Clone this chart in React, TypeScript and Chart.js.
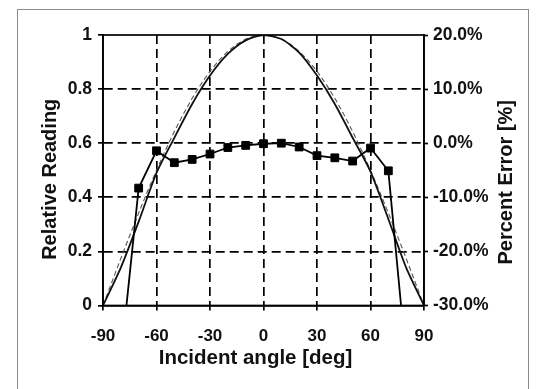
import React, { useEffect, useRef } from "react";
import { Chart, registerables } from "chart.js";

Chart.register(...registerables);

// Cosine (ideal) response, read every 5 degrees
const cosAngles = [-90, -85, -80, -75, -70, -65, -60, -55, -50, -45, -40, -35, -30, -25, -20, -15, -10, -5, 0, 5, 10, 15, 20, 25, 30, 35, 40, 45, 50, 55, 60, 65, 70, 75, 80, 85, 90];
const cosValues = [0, 0.087, 0.174, 0.259, 0.342, 0.423, 0.5, 0.574, 0.643, 0.707, 0.766, 0.819, 0.866, 0.906, 0.94, 0.966, 0.985, 0.996, 1, 0.996, 0.985, 0.966, 0.94, 0.906, 0.866, 0.819, 0.766, 0.707, 0.643, 0.574, 0.5, 0.423, 0.342, 0.259, 0.174, 0.087, 0];

// Measured relative reading
const measAngles = [-90, -80, -70, -60, -50, -40, -30, -20, -10, 0, 10, 20, 30, 40, 50, 60, 70, 80, 90];
const measValues = [0, 0.14, 0.31, 0.49, 0.62, 0.745, 0.85, 0.93, 0.98, 1.0, 0.985, 0.935, 0.85, 0.745, 0.62, 0.495, 0.32, 0.14, 0];

// Percent error (right axis)
const errAngles = [-80, -70, -60, -50, -40, -30, -20, -10, 0, 10, 20, 30, 40, 50, 60, 70, 80];
const errValues = [-40, -8.3, -1.4, -3.6, -3.0, -2.0, -0.8, -0.4, -0.1, 0, -0.7, -2.3, -2.7, -3.3, -0.9, -5.1, -40];

const xTickValues = [-90, -60, -30, 0, 30, 60, 90];
const leftTickValues = [0, 0.2, 0.4, 0.6, 0.8, 1];
const rightTickValues = [-30, -20, -10, 0, 10, 20];

const xTitle = "Incident angle [deg]";
const leftTitle = "Relative Reading";
const rightTitle = "Percent Error [%]";

const FONT = '"Liberation Sans", Arial, sans-serif';
const INK = "#111111";

const deco = {
  id: "deco",
  afterDraw(chart: any) {
    const { ctx, chartArea: a } = chart;
    ctx.save();
    ctx.setLineDash([]);
    ctx.strokeStyle = "#000";
    ctx.lineWidth = 1.7;
    ctx.strokeRect(a.left, a.top, a.right - a.left, a.bottom - a.top);
    ctx.fillStyle = INK;
    ctx.textAlign = "center";
    ctx.textBaseline = "middle";
    ctx.font = `bold 20.5px ${FONT}`;
    ctx.fillText(xTitle, (a.left + a.right) / 2 - 8, a.bottom + 53);
    ctx.font = `bold 20px ${FONT}`;
    ctx.save();
    ctx.translate(a.left - 53, (a.top + a.bottom) / 2 + 9);
    ctx.rotate(-Math.PI / 2);
    ctx.fillText(leftTitle, 0, 0);
    ctx.restore();
    ctx.save();
    ctx.translate(a.right + 82, (a.top + a.bottom) / 2 + 12);
    ctx.rotate(-Math.PI / 2);
    ctx.fillText(rightTitle, 0, 0);
    ctx.restore();
    ctx.restore();
  },
};

export default function App() {
  const ref = useRef<HTMLCanvasElement>(null);

  useEffect(() => {
    if (!ref.current) return;
    const xEdge = (v: number) => v === xTickValues[0] || v === xTickValues[xTickValues.length - 1];
    const yEdge = (v: number) => v === leftTickValues[0] || v === leftTickValues[leftTickValues.length - 1];
    const chart = new Chart(ref.current, {
      type: "line",
      data: {
        datasets: [
          {
            label: "Percent Error",
            data: errAngles.map((x, i) => ({ x, y: errValues[i] })),
            yAxisID: "y2",
            borderColor: "#000",
            backgroundColor: "#000",
            borderWidth: 1.8,
            pointStyle: "rect",
            pointRadius: 5.5,
            pointBorderWidth: 1,
            pointBackgroundColor: "#000",
            pointBorderColor: "#000",
            tension: 0,
          },
          {
            label: "Measured",
            data: measAngles.map((x, i) => ({ x, y: measValues[i] })),
            yAxisID: "y",
            borderColor: "#111",
            borderWidth: 1.8,
            pointRadius: 0,
            tension: 0.25,
          },
          {
            label: "Cosine",
            data: cosAngles.map((x, i) => ({ x, y: cosValues[i] })),
            yAxisID: "y",
            borderColor: "#555",
            borderWidth: 1.1,
            borderDash: [5, 3],
            pointRadius: 0,
            tension: 0,
          },
        ],
      },
      options: {
        animation: false,
        responsive: false,
        devicePixelRatio: 1,
        layout: { padding: { top: 35, left: 0, right: 0, bottom: 0 } },
        plugins: { legend: { display: false }, tooltip: { enabled: false }, title: { display: false } },
        scales: {
          x: {
            type: "linear",
            min: -90,
            max: 90,
            afterBuildTicks: (s: any) => {
              s.ticks = xTickValues.map((v) => ({ value: v }));
            },
            afterFit: (s: any) => {
              s.height = 83.5;
            },
            grid: {
              color: (c: any) => (c.tick && xEdge(c.tick.value) ? "rgba(0,0,0,0)" : "#000"),
              lineWidth: 1.7,
              drawTicks: true,
              tickLength: 5,
              tickColor: "#000",
              tickWidth: 1.7,
            },
            border: { display: true, color: "#000", width: 1.7, dash: [9, 5] },
            ticks: {
              color: INK,
              font: { family: FONT, size: 17, weight: "bold" },
              padding: 16,
              maxRotation: 0,
              autoSkip: false,
              callback: (v: any) => String(v),
            },
          },
          y: {
            type: "linear",
            position: "left",
            min: 0,
            max: 1,
            afterBuildTicks: (s: any) => {
              s.ticks = leftTickValues.map((v) => ({ value: v }));
            },
            afterFit: (s: any) => {
              s.width = 103;
            },
            grid: {
              color: (c: any) => (c.tick && yEdge(c.tick.value) ? "rgba(0,0,0,0)" : "#000"),
              lineWidth: 1.7,
              drawTicks: true,
              tickLength: 5,
              tickColor: "#000",
              tickWidth: 1.7,
            },
            border: { display: true, color: "#000", width: 1.7, dash: [9, 5] },
            ticks: {
              color: INK,
              font: { family: FONT, size: 17.5, weight: "bold" },
              padding: 6,
              autoSkip: false,
              callback: (v: any) => String(Number(Number(v).toFixed(1))),
            },
          },
          y2: {
            type: "linear",
            position: "right",
            min: -30,
            max: 20,
            afterBuildTicks: (s: any) => {
              s.ticks = rightTickValues.map((v) => ({ value: v }));
            },
            afterFit: (s: any) => {
              s.width = 121;
            },
            grid: {
              drawOnChartArea: false,
              drawTicks: true,
              tickLength: 4,
              tickColor: "#000",
              tickWidth: 1.7,
            },
            border: { display: true, color: "#000", width: 1.7 },
            ticks: {
              color: INK,
              font: { family: FONT, size: 17.5, weight: "bold" },
              padding: 5,
              autoSkip: false,
              callback: (v: any) => Number(v).toFixed(1) + "%",
            },
          },
        },
      } as any,
      plugins: [deco],
    });
    return () => chart.destroy();
  }, []);

  return (
    <div style={{ position: "fixed", left: 0, top: 0, width: 545, height: 389, background: "#fff", overflow: "hidden" }}>
      <div
        style={{
          position: "absolute",
          left: 17,
          top: 9,
          width: 510,
          height: 420,
          border: "1px solid #8a8a8a",
        }}
      />
      <canvas ref={ref} width={545} height={389} style={{ position: "absolute", left: 0, top: 0, width: 545, height: 389 }} />
    </div>
  );
}
